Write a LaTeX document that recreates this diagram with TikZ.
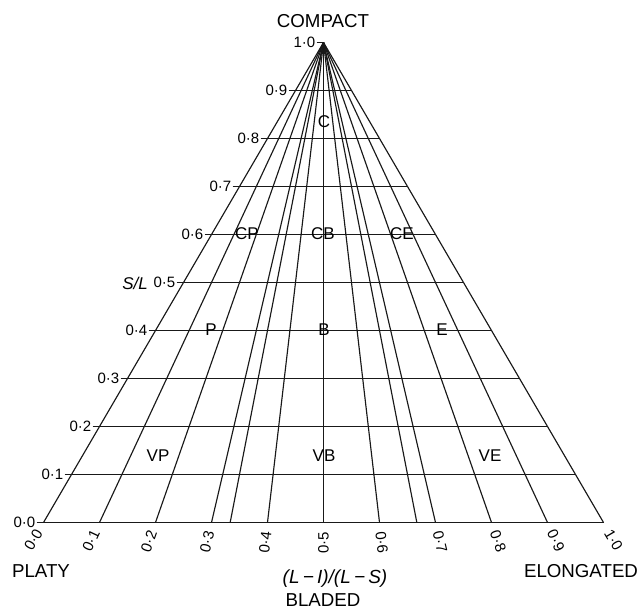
\documentclass[tikz,border=0pt]{standalone}
\usepackage{fontspec}
\setmainfont{Liberation Sans}
\begin{document}
\begin{tikzpicture}[x=1pt,y=-1pt,
  gridline/.style={line width=1.15pt, black!90},
  num/.style={font=\fontsize{15}{15}\selectfont, inner sep=1pt},
  word/.style={font=\fontsize{18.7}{19}\selectfont, inner sep=0pt},
  region/.style={font=\fontsize{17}{18}\selectfont, inner sep=0pt}]
\useasboundingbox (0,0) rectangle (640,609);
\coordinate (apex) at (323.5,42.5);
% horizontal S/L lines
\foreach \i in {0,...,9} {
  \pgfmathsetmacro\yy{522.5-48*\i}
  \pgfmathsetmacro\xl{43.5+28*\i}
  \pgfmathsetmacro\xr{603.5-28*\i}
  \coordinate (T\i) at (\xl-7,\yy);
  \coordinate (R\i) at (\xr,\yy);
  \draw[gridline] (T\i) -- (R\i);
  \node[num, anchor=east] (n\i) at (T\i) {0·\i};
}
\coordinate (T10) at (316.5,42.5);
\draw[gridline] (T10) -- (apex);
\node[num, anchor=east] (n10) at (T10) {1·0};
\node[font=\fontsize{17}{17}\selectfont\itshape, anchor=east, inner sep=0pt] (sl) at (148,283) {S/L};
% rays
\foreach \t [count=\k] in {0,0.1,0.2,0.3,0.33333,0.4,0.5,0.6,0.66667,0.7,0.8,0.9,1} {
  \coordinate (b\k) at ({43.5+560*\t},522.5);
  \draw[gridline] (apex) -- (b\k);
}
% base labels
\foreach \t/\lab [count=\k] in {0/0·0,0.1/0·1,0.2/0·2,0.3/0·3,0.4/0·4,0.5/0·5,0.6/0·6,0.7/0·7,0.8/0·8,0.9/0·9,1/1·0} {
  \pgfmathsetmacro\bx{43.5+560*\t}
  \pgfmathsetmacro\len{100*sqrt(((\bx-323.5)/100)^2+4.8^2)}
  \pgfmathsetmacro\ang{\t<0.55 ? atan2(480,323.5-\bx) : atan2(-480,\bx-323.5)}
  \node[num, rotate=\ang] (bl\k) at ({\bx+20*(\bx-323.5)/\len},{522.5+20*480/\len}) {\lab};
}
% corner and axis words
\node[word] (compact) at (323,21) {COMPACT};
\node[word] (platy) at (41,571) {PLATY};
\node[word] (elong) at (581,571) {ELONGATED};
\node[word] (bladed) at (323,600) {BLADED};
\node[word, font=\fontsize{19}{19}\selectfont\itshape] (ratio) at (335,579) {(L\,−\,I)/(L\,−\,S)};
% region labels
\node[region] (C) at (324,122) {C};
\node[region] (CP) at (247,234) {CP};
\node[region] (CB) at (323,234) {CB};
\node[region] (CE) at (402,234) {CE};
\node[region] (P) at (211,330) {P};
\node[region] (B) at (324,330) {B};
\node[region] (E) at (442,330) {E};
\node[region] (VP) at (158,456) {VP};
\node[region] (VB) at (324,456) {VB};
\node[region] (VE) at (490,456) {VE};
\end{tikzpicture}
\end{document}
